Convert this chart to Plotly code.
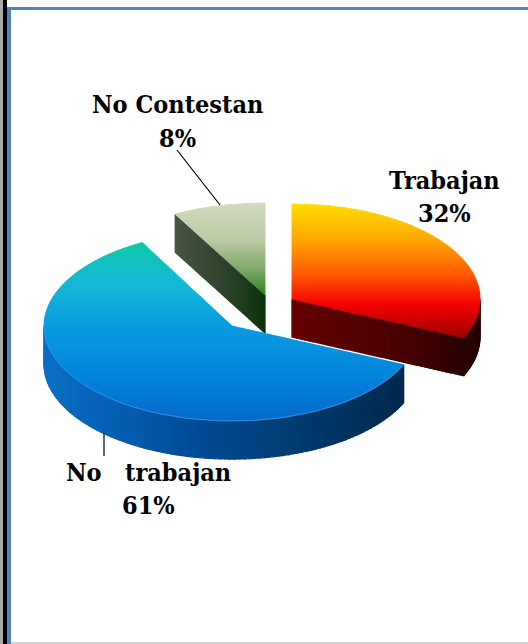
import math
import plotly.graph_objects as go

# ---- data ----
categories = ["Trabajan", "No  trabajan", "No Contestan"]
values = [32, 61, 8]
percent_labels = ["32%", "61%", "8%"]

# ---- style ----
W, H = 528, 644
A, B = 188, 96
FONT = dict(family="DejaVu Serif Condensed, DejaVu Serif, serif", size=25, color="#000000")
centers = {"Trabajan": (292, 299), "No  trabajan": (232, 326), "No Contestan": (265, 295)}
minor_b = {"Trabajan": 95, "No  trabajan": 95, "No Contestan": 92}
depth = {"Trabajan": 38, "No  trabajan": 38, "No Contestan": 38}
top_stops = {
    "Trabajan": [(205, "#ffdc00"), (240, "#ffa800"), (275, "#ff5a00"), (305, "#f20000"), (345, "#8c0000")],
    "No  trabajan": [(245, "#0fc8a8"), (285, "#14b8d8"), (330, "#0a9ae0"), (380, "#0482dc"), (424, "#0468c8")],
    "No Contestan": [(203, "#d2dbc0"), (240, "#bccca6"), (270, "#7fa868"), (295, "#2f8420")],
}
side_stops = {
    "Trabajan": [(292, "#640000"), (400, "#4a0000"), (480, "#240000")],
    "No  trabajan": [(44, "#0a70c4"), (110, "#0660b4"), (200, "#004a94"), (320, "#003768"), (402, "#00284c")],
    "No Contestan": [(175, "#4a5444"), (225, "#2c4228"), (265, "#0c340c")],
}


def hex2rgb(h):
    return [int(h[i:i + 2], 16) for i in (1, 3, 5)]


def ramp(stops, v):
    if v <= stops[0][0]:
        return stops[0][1]
    for (p0, c0), (p1, c1) in zip(stops, stops[1:]):
        if v <= p1:
            t = (v - p0) / (p1 - p0)
            a, b = hex2rgb(c0), hex2rgb(c1)
            return "rgb(%d,%d,%d)" % tuple(round(x + (y - x) * t) for x, y in zip(a, b))
    return stops[-1][1]


def clip(poly, limit, keep_above):
    inside = (lambda p: p[1] >= limit) if keep_above else (lambda p: p[1] <= limit)
    out = []
    for i, p in enumerate(poly):
        q = poly[(i + 1) % len(poly)]
        if inside(p):
            out.append(p)
        if inside(p) != inside(q):
            t = (limit - p[1]) / (q[1] - p[1])
            out.append((p[0] + (q[0] - p[0]) * t, limit))
    return out


fig = go.Figure()


def add_poly(pts, color, lw=1.3):
    xs = [p[0] for p in pts] + [pts[0][0]]
    ys = [p[1] for p in pts] + [pts[0][1]]
    fig.add_trace(go.Scatter(x=xs, y=ys, mode="lines", fill="toself", fillcolor=color,
                             line=dict(color=color, width=lw), hoverinfo="skip", showlegend=False))


def rim(name, deg):
    cx, cy = centers[name]
    t = math.radians(deg)
    return (cx + A * math.sin(t), cy - minor_b[name] * math.cos(t))


def side_quads(name, d0, d1, step=1.5):
    h = depth[name]
    n = max(1, int((d1 - d0) / step))
    for i in range(n):
        p = rim(name, d0 + (d1 - d0) * i / n)
        q = rim(name, d0 + (d1 - d0) * (i + 1) / n)
        add_poly([p, q, (q[0], q[1] + h), (p[0], p[1] + h)], ramp(side_stops[name], (p[0] + q[0]) / 2))


def cut_face(name, deg, parts=40):
    cx, cy = centers[name]
    h = depth[name]
    e = rim(name, deg)
    for i in range(parts):
        a = (cx + (e[0] - cx) * i / parts, cy + (e[1] - cy) * i / parts)
        b = (cx + (e[0] - cx) * (i + 1) / parts, cy + (e[1] - cy) * (i + 1) / parts)
        add_poly([a, b, (b[0], b[1] + h), (a[0], a[1] + h)], ramp(side_stops[name], (a[0] + b[0]) / 2))


def top_face(name, d0, d1, band=2):
    cx, cy = centers[name]
    n = max(8, int(abs(d1 - d0)))
    poly = [(cx, cy)] + [rim(name, d0 + (d1 - d0) * i / n) for i in range(n + 1)]
    ymin = min(p[1] for p in poly)
    ymax = max(p[1] for p in poly)
    y = ymin
    while y < ymax:
        part = clip(clip(poly, y, True), y + band, False)
        if len(part) >= 3:
            add_poly(part, ramp(top_stops[name], y + band / 2), lw=0.9)
        y += band


# angles run clockwise from 12 o'clock, following the slice shares
total = sum(values)
spans = {}
start = 0.0
for c, v in zip(categories, values):
    spans[c] = (start, start + 360.0 * v / total)
    start += 360.0 * v / total

# frame
shapes = [
    dict(type="rect", xref="paper", yref="paper", x0=0, x1=3 / W, y0=0, y1=1, fillcolor="#a8a8a8", line_width=0),
    dict(type="rect", xref="paper", yref="paper", x0=3 / W, x1=7 / W, y0=0, y1=1, fillcolor="#000000", line_width=0),
    dict(type="rect", xref="paper", yref="paper", x0=7 / W, x1=11 / W, y0=0, y1=1 - 7 / H, fillcolor="#4f81bd", line_width=0),
    dict(type="rect", xref="paper", yref="paper", x0=7 / W, x1=1, y0=1 - 10 / H, y1=1 - 7 / H, fillcolor="#4f81bd", line_width=0),
    dict(type="rect", xref="paper", yref="paper", x0=11 / W, x1=1, y0=0, y1=2 / H, fillcolor="#d4d4d4", line_width=0),
    dict(type="line", x0=177, y0=150, x1=220, y1=205, line=dict(color="#000000", width=1.2)),
    dict(type="line", x0=104, y0=433, x1=104, y1=456, line=dict(color="#000000", width=1.2)),
]

# No Contestan (back), then Trabajan, then No trabajan in front
g0, g1 = spans["No Contestan"]
cut_face("No Contestan", g0)
top_face("No Contestan", g0, g1)

o0, o1 = spans["Trabajan"]
cut_face("Trabajan", o1)
side_quads("Trabajan", 90, o1)
top_face("Trabajan", o0, o1)

b0, b1 = spans["No  trabajan"]
side_quads("No  trabajan", b0, 270)
top_face("No  trabajan", b0, b1)
rim_pts = [rim("No  trabajan", d) for d in range(int(b0) + 1, 271, 2)]
fig.add_trace(go.Scatter(x=[p[0] for p in rim_pts], y=[p[1] for p in rim_pts], mode="lines",
                         line=dict(color="#2f93dc", width=1), hoverinfo="skip", showlegend=False))

annotations = []
label_pos = {"Trabajan": (444, 180, 213), "No  trabajan": (148, 472, 505), "No Contestan": (177, 104, 138)}
for c, p in zip(categories, percent_labels):
    x, y1, y2 = label_pos[c]
    text = c.replace("  ", "\u00a0\u00a0\u00a0")
    for t, y in ((text, y1), (p, y2)):
        annotations.append(dict(x=x, y=y, text="<b>%s</b>" % t, showarrow=False, font=FONT,
                                xanchor="center", yanchor="middle"))

fig.update_layout(
    width=W, height=H, margin=dict(l=0, r=0, t=0, b=0),
    paper_bgcolor="#ffffff", plot_bgcolor="#ffffff", showlegend=False,
    xaxis=dict(range=[0, W], visible=False, fixedrange=True),
    yaxis=dict(range=[H, 0], visible=False, fixedrange=True),
    shapes=shapes, annotations=annotations,
)
fig.write_html("out.html", config=dict(displayModeBar=False),
               post_script="document.body.style.margin='0';document.documentElement.style.overflow='hidden';")
